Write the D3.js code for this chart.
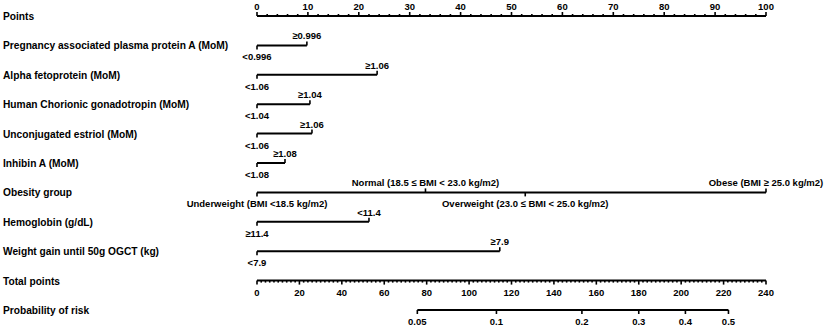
<!DOCTYPE html>
<html>
<head>
<meta charset="utf-8">
<script src="https://cdn.jsdelivr.net/npm/d3@7"></script>
<style>
  body { margin: 0; background: #fff; }
  text { font-family: "Liberation Sans", Arial, sans-serif; fill: #000; font-weight: bold; }
</style>
</head>
<body>
<div id="vis"></div>
<script>
// ---- data ----
const rowNames = [
  "Points",
  "Pregnancy associated plasma protein A (MoM)",
  "Alpha fetoprotein (MoM)",
  "Human Chorionic gonadotropin (MoM)",
  "Unconjugated estriol (MoM)",
  "Inhibin A (MoM)",
  "Obesity group",
  "Hemoglobin (g/dL)",
  "Weight gain until 50g OGCT (kg)",
  "Total points",
  "Probability of risk"
];

const pointsTicks = [0, 10, 20, 30, 40, 50, 60, 70, 80, 90, 100];
const totalTicks = [0, 20, 40, 60, 80, 100, 120, 140, 160, 180, 200, 220, 240];

// factor levels (label, points) in order of increasing points
const pappaLevels = [["<0.996", 0], ["≥0.996", 9.8]];
const afpLevels = [["<1.06", 0], ["≥1.06", 23.6]];
const hcgLevels = [["<1.04", 0], ["≥1.04", 10.4]];
const ue3Levels = [["<1.06", 0], ["≥1.06", 10.8]];
const inhibinLevels = [["<1.08", 0], ["≥1.08", 5.5]];
const obesityLevels = [
  ["Underweight (BMI <18.5 kg/m2)", 0],
  ["Normal (18.5 ≤ BMI < 23.0 kg/m2)", 33.1],
  ["Overweight (23.0 ≤ BMI < 25.0 kg/m2)", 52.7],
  ["Obese (BMI ≥ 25.0 kg/m2)", 100]
];
const hbLevels = [["≥11.4", 0], ["<11.4", 22.0]];
const weightLevels = [["<7.9", 0], ["≥7.9", 47.7]];

// probability ticks placed on the total points scale
const probLabels = ["0.05", "0.1", "0.2", "0.3", "0.4", "0.5"];
const probTotals = [75.6, 112.9, 153.2, 180.0, 202.0, 222.3];

// ---- layout ----
const width = 825, height = 328;
const x0 = 257, x1 = 766;

const svg = d3.select("#vis").append("svg")
  .attr("width", width)
  .attr("height", height);

const y = d3.scalePoint().domain(rowNames).range([16, 310]);
const xPts = d3.scaleLinear().domain([0, 100]).range([x0, x1]);
const xTot = d3.scaleLinear().domain([0, 240]).range([x0, x1]);

// row labels
svg.selectAll("text.row")
  .data(rowNames)
  .join("text")
  .attr("class", "row")
  .attr("x", 3)
  .attr("y", d => y(d) + 4)
  .attr("font-size", "10.2px")
  .text(d => d);

function hline(yy, a, b) {
  svg.append("line")
    .attr("x1", a).attr("x2", b)
    .attr("y1", yy).attr("y2", yy)
    .attr("stroke", "#000").attr("stroke-width", 2);
}

function tick(xx, yy, len) {
  svg.append("line")
    .attr("x1", xx).attr("x2", xx)
    .attr("y1", yy).attr("y2", yy + len)
    .attr("stroke", "#000").attr("stroke-width", 1.6);
}

// Points axis
{
  const yy = y("Points");
  hline(yy, x0, x1);
  d3.range(0, 101, 2).forEach(v => tick(xPts(v), yy, pointsTicks.includes(v) ? -4 : -2));
  svg.selectAll("text.ptick")
    .data(pointsTicks)
    .join("text")
    .attr("class", "ptick")
    .attr("x", d => xPts(d))
    .attr("y", yy - 6)
    .attr("text-anchor", "middle")
    .attr("font-size", "9.5px")
    .text(d => d);
}

// factor rows
const factors = [
  ["Pregnancy associated plasma protein A (MoM)", pappaLevels],
  ["Alpha fetoprotein (MoM)", afpLevels],
  ["Human Chorionic gonadotropin (MoM)", hcgLevels],
  ["Unconjugated estriol (MoM)", ue3Levels],
  ["Inhibin A (MoM)", inhibinLevels],
  ["Obesity group", obesityLevels],
  ["Hemoglobin (g/dL)", hbLevels],
  ["Weight gain until 50g OGCT (kg)", weightLevels]
];

factors.forEach(([name, levels]) => {
  const yy = y(name);
  hline(yy, xPts(0), xPts(d3.max(levels, d => d[1])));
  levels.forEach(([lab, pts], i) => {
    const above = i % 2 === 1;
    tick(xPts(pts), yy, above ? -4 : 4);
    svg.append("text")
      .attr("x", xPts(pts))
      .attr("y", above ? yy - 6 : yy + 15)
      .attr("text-anchor", "middle")
      .attr("font-size", "9.5px")
      .text(lab);
  });
});

// Total points axis
{
  const yy = y("Total points");
  hline(yy, x0, x1);
  d3.range(0, 241, 2).forEach(v => tick(xTot(v), yy, totalTicks.includes(v) ? 4 : 2));
  svg.selectAll("text.ttick")
    .data(totalTicks)
    .join("text")
    .attr("class", "ttick")
    .attr("x", d => xTot(d))
    .attr("y", yy + 15)
    .attr("text-anchor", "middle")
    .attr("font-size", "9.5px")
    .text(d => d);
}

// Probability axis
{
  const yy = y("Probability of risk");
  hline(yy, xTot(probTotals[0]), xTot(probTotals[probTotals.length - 1]));
  probTotals.forEach(v => tick(xTot(v), yy, 4));
  svg.selectAll("text.prtick")
    .data(probTotals)
    .join("text")
    .attr("class", "prtick")
    .attr("x", d => xTot(d))
    .attr("y", yy + 15)
    .attr("text-anchor", "middle")
    .attr("font-size", "9.5px")
    .text((d, i) => probLabels[i]);
}
</script>
</body>
</html>
